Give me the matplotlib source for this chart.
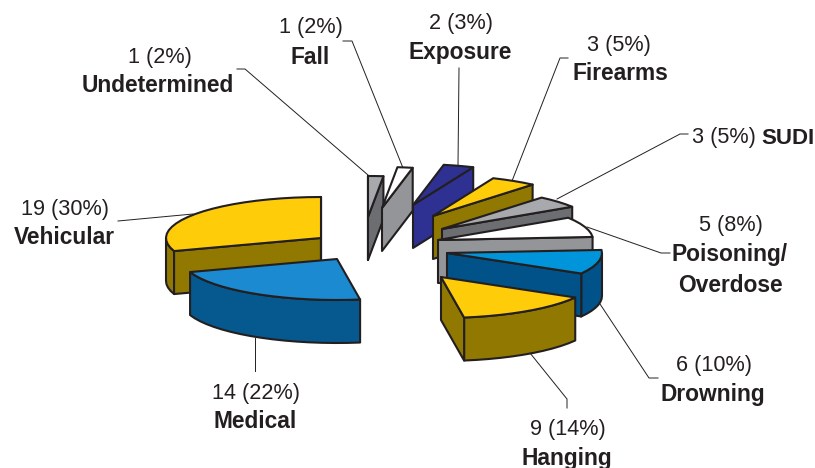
import numpy as np
from matplotlib import pyplot as plt
from matplotlib.patches import Polygon

plt.rcParams['font.family'] = ['Liberation Sans', 'DejaVu Sans']

categories = ['Undetermined', 'Fall', 'Exposure', 'Firearms', 'SUDI',
              'Poisoning/\nOverdose', 'Drowning', 'Hanging', 'Medical', 'Vehicular']
counts = [1, 1, 2, 3, 3, 5, 6, 9, 14, 19]
percents = [2, 2, 3, 5, 5, 8, 10, 14, 22, 30]

top_colors = ['#a7a9ac', '#ffffff', '#2e3192', '#ffcc0a', '#a7a9ac',
              '#ffffff', '#0095da', '#ffcc0a', '#1b8ad0', '#ffcc0a']
side_colors = ['#6d6e71', '#939598', '#2e3192', '#917800', '#6d6e71',
               '#939598', '#005289', '#917800', '#05598f', '#917800']

# layout in pixels: tip of each exploded slice, pie radii and thickness
apex_xy = [(368, 217), (382, 208), (413, 205), (433, 216), (442, 229),
           (438, 240), (447, 253), (441, 277), (337, 259), (321, 238)]
rx, ry, depth = 155, 41, 43
edge = '#231f20'

# label centres: (count line), (name line)
count_xy = [(160, 57), (311, 28), (461, 24), (619, 45), (724, 138),
            (731, 225), (714, 365), (568, 430), (256, 393), (65, 209)]
name_xy = [(158, 86), (310, 57), (460, 53), (620, 74), (788, 138),
           (730, 270), (713, 394), (567, 458), (255, 421), (64, 237)]
leaders = [[(237, 69), (245, 69), (368, 175)],
           [(343, 41), (352, 41), (403, 168)],
           [(459, 68), (458, 165)],
           [(568, 58), (560, 58), (512, 181)],
           [(688, 134), (680, 134), (557, 199)],
           [(670, 253), (661, 253), (587, 227)],
           [(658, 378), (649, 378), (600, 304)],
           [(567, 408), (567, 399), (530, 353)],
           [(255, 371), (255, 338)],
           [(118, 221), (193, 214)]]


def rim(apex, a1, a2, drop=0):
    t = np.radians(np.linspace(a1, a2, max(int(abs(a2 - a1) / 5) + 2, 2)))
    return np.column_stack([apex[0] + rx * np.sin(t), apex[1] - ry * np.cos(t) + drop])


def draw_slice(ax, apex, a1, a2, top, side, z):
    def face(pts, color):
        ax.add_patch(Polygon(pts, closed=True, facecolor=color, edgecolor=edge,
                             linewidth=1.5, joinstyle='round', zorder=z))

    # outer wall, only the front half of the rim can be seen
    lo, hi = max(a1, 90), min(a2, 270)
    if lo < hi:
        face(np.vstack([rim(apex, lo, hi), rim(apex, lo, hi, depth)[::-1]]), side)
    # flat cut walls
    for ang, visible in ((a1, np.sin(np.radians(a1)) < 1e-6),
                         (a2, np.sin(np.radians(a2)) > -1e-6)):
        if visible:
            p = rim(apex, ang, ang)[0]
            face([apex, p, p + (0, depth), (apex[0], apex[1] + depth)], side)
    face(np.vstack([[apex], rim(apex, a1, a2)]), top)


fig = plt.figure(figsize=(8.15, 4.68), dpi=100)
ax = fig.add_axes([0, 0, 1, 1])
ax.set_xlim(0, 815)
ax.set_ylim(468, 0)
ax.axis('off')

for pts in leaders:
    xs, ys = zip(*pts)
    ax.plot(xs, ys, color=edge, linewidth=0.7, zorder=1)

edges = np.concatenate([[0], np.cumsum(counts)]) / sum(counts) * 360
# back slices first, medical sits in front of vehicular
order = [0, 1, 2, 3, 4, 5, 6, 7, 9, 8]
for z, i in enumerate(order):
    draw_slice(ax, apex_xy[i], edges[i], edges[i + 1], top_colors[i], side_colors[i], z + 2)

for i, name in enumerate(categories):
    ax.text(*count_xy[i], f'{counts[i]} ({percents[i]}%)', fontsize=15.6, color='#231f20',
            ha='center', va='center')
    ax.text(*name_xy[i], name, fontsize=16 if name == 'SUDI' else 16.4, fontweight='bold',
            color='#231f20', ha='center', va='center', linespacing=1.42)

fig.savefig('out.png', dpi=100)
